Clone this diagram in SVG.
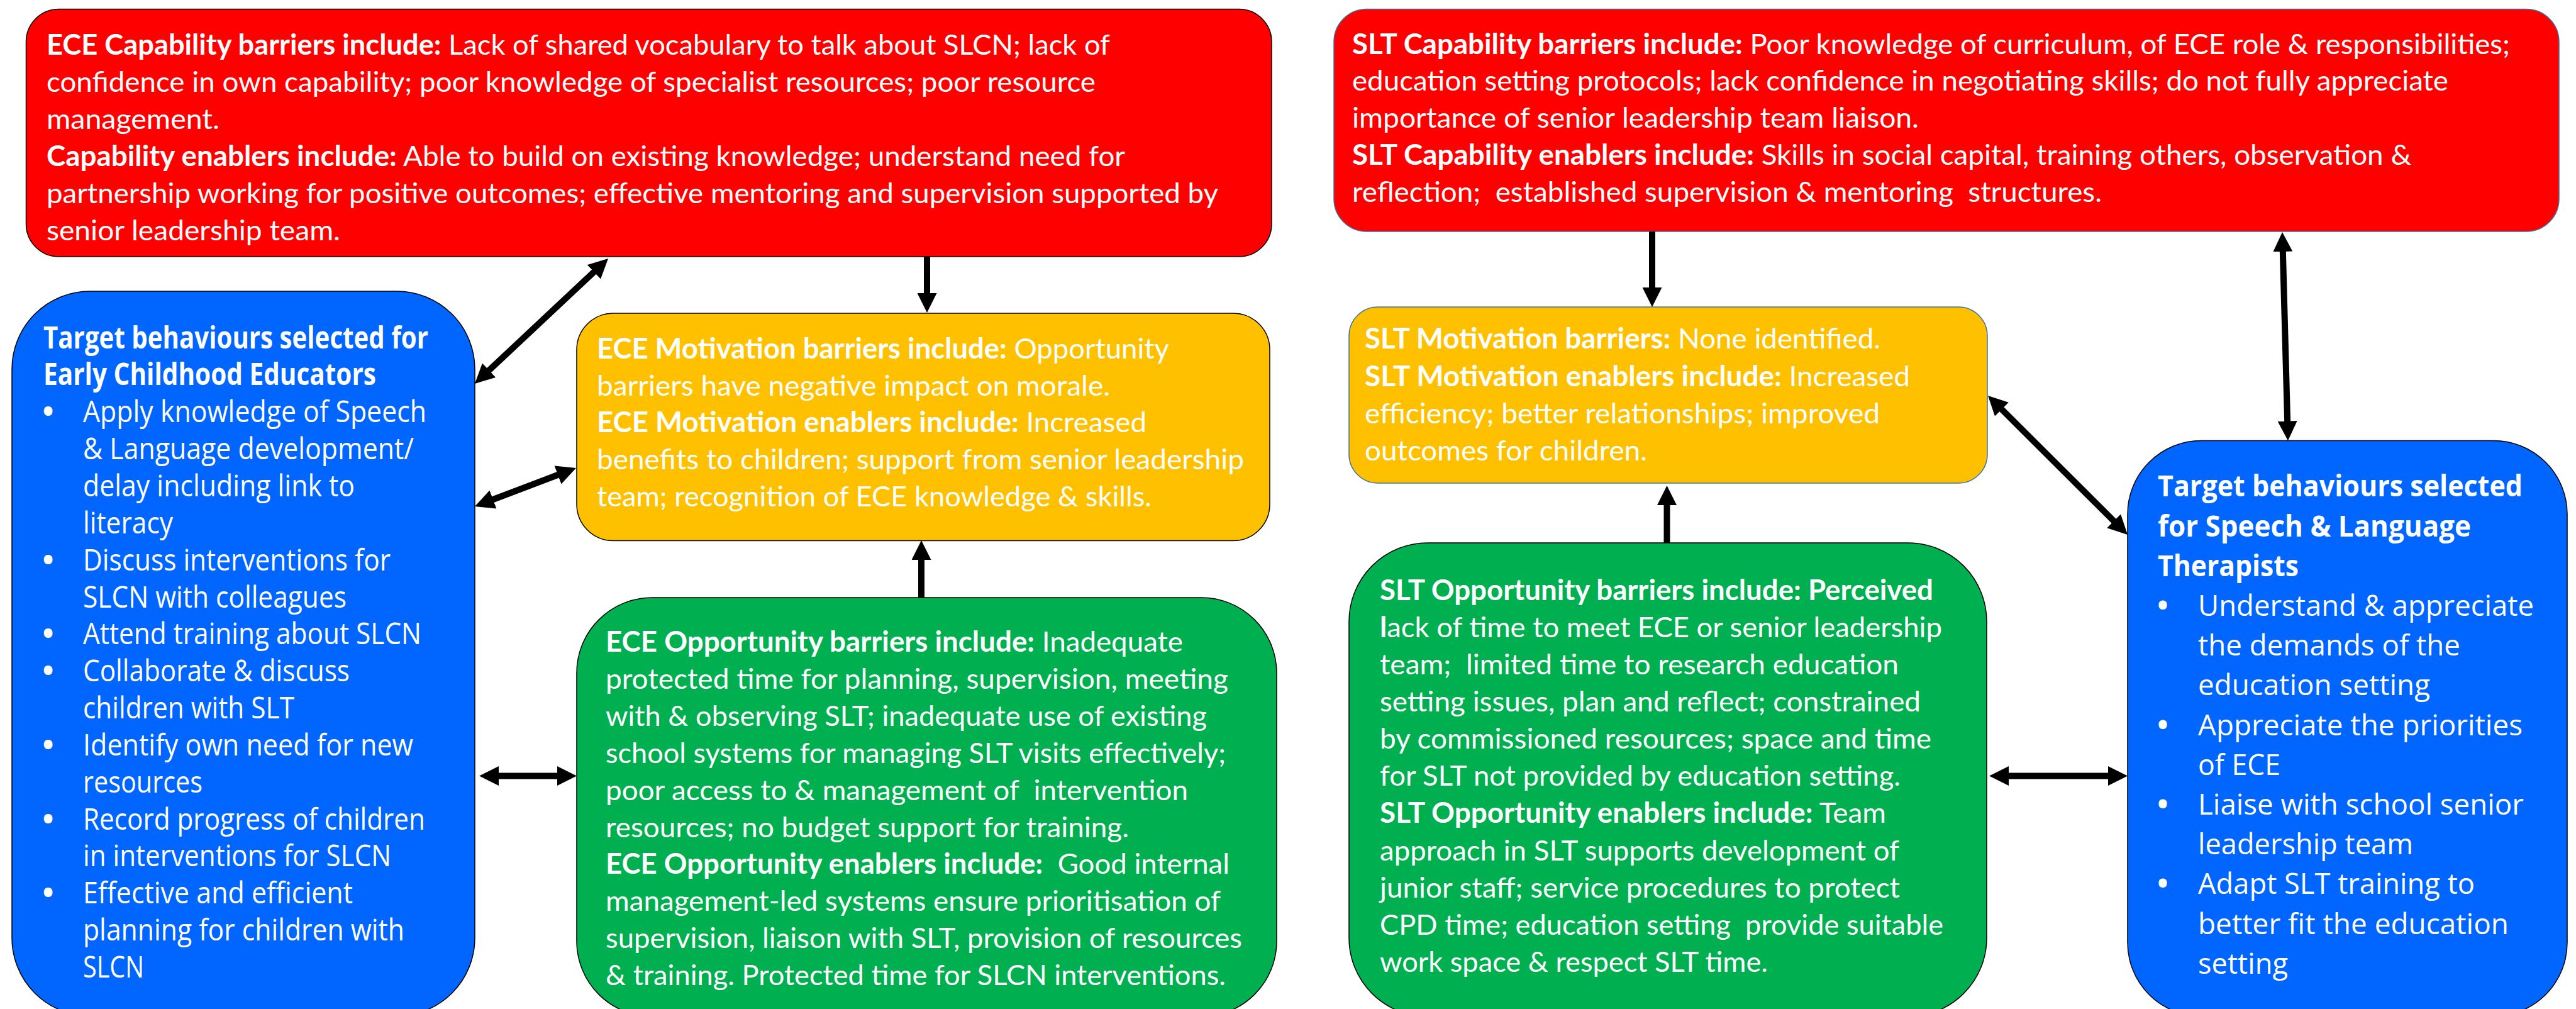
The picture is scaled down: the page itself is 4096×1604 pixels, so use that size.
<svg xmlns="http://www.w3.org/2000/svg" width="4096" height="1604" viewBox="0 0 4096 1604">
  <style>
    .box { stroke: #000; stroke-width: 1.5; }
    .edge { stroke: #41719C; }
    .red { fill: #FF0000; }
    .yel { fill: #FFC000; }
    .grn { fill: #00B050; }
    .blu { fill: #0066FF; }
    .t { font-family: Lato, "Open Sans", "Liberation Sans", sans-serif; font-size: 45px; fill: #FFFFFF; }
    .tb { font-family: "Open Sans", Lato, "Liberation Sans", sans-serif; font-size: 48px; fill: #FFFFFF; }
    .tb2 { font-family: "Open Sans", Lato, "Liberation Sans", sans-serif; font-size: 46px; fill: #FFFFFF; }
    .b { font-weight: 700; }
    .bul { text-anchor: middle; font-weight: 700; }
    .conn { fill: none; stroke: #000; stroke-width: 10; }
  </style>
  <defs>
    <marker id="ah" viewBox="0 0 31 31" refX="9" refY="15.5" markerWidth="31" markerHeight="31" markerUnits="userSpaceOnUse" orient="auto-start-reverse">
      <path d="M0,0 L31,15.5 L0,31 Z" fill="#000"/>
    </marker>
  </defs>
  <rect width="4096" height="1604" fill="#FFFFFF"/>

  <!-- ECE capability -->
  <g id="ece-capability">
    <rect class="box red" x="41.5" y="14.5" width="1980.5" height="393.5" rx="52"/>
    <text class="t" x="74" y="86.5" textLength="1691" lengthAdjust="spacingAndGlyphs"><tspan class="b">ECE Capability barriers include:</tspan> Lack of shared vocabulary to talk about SLCN; lack of</text>
    <text class="t" x="74" y="145.5" textLength="1668" lengthAdjust="spacingAndGlyphs">confidence in own capability; poor knowledge of specialist resources; poor resource</text>
    <text class="t" x="74" y="204.5" textLength="275" lengthAdjust="spacingAndGlyphs">management.</text>
    <text class="t" x="74" y="263.5" textLength="1715" lengthAdjust="spacingAndGlyphs"><tspan class="b">Capability enablers include:</tspan> Able to build on existing knowledge; understand need for</text>
    <text class="t" x="74" y="322.5" textLength="1863" lengthAdjust="spacingAndGlyphs">partnership working for positive outcomes; effective mentoring and supervision supported by</text>
    <text class="t" x="74" y="381.5" textLength="467" lengthAdjust="spacingAndGlyphs">senior leadership team.</text>
  </g>

  <!-- SLT capability -->
  <g id="slt-capability">
    <rect class="box edge red" x="2121" y="14.5" width="1948" height="353.5" rx="52"/>
    <text class="t" x="2150" y="85.5" textLength="1841" lengthAdjust="spacingAndGlyphs"><tspan class="b">SLT Capability barriers include:</tspan> Poor knowledge of curriculum, of ECE role &amp; responsibilities;</text>
    <text class="t" x="2150" y="144.3" textLength="1743" lengthAdjust="spacingAndGlyphs">education setting protocols; lack confidence in negotiating skills; do not fully appreciate</text>
    <text class="t" x="2150" y="203.1" textLength="901" lengthAdjust="spacingAndGlyphs">importance of senior leadership team liaison.</text>
    <text class="t" x="2150" y="261.9" textLength="1684" lengthAdjust="spacingAndGlyphs"><tspan class="b">SLT Capability enablers include:</tspan> Skills in social capital, training others, observation &amp;</text>
    <text class="t" x="2150" y="320.7" textLength="1192" lengthAdjust="spacingAndGlyphs" xml:space="preserve">reflection;  established supervision &amp; mentoring  structures.</text>
  </g>

  <!-- ECE motivation -->
  <g id="ece-motivation">
    <rect class="box yel" x="917" y="498" width="1102" height="361.5" rx="58"/>
    <text class="t" x="949" y="570" textLength="910" lengthAdjust="spacingAndGlyphs"><tspan class="b">ECE Motivation barriers include:</tspan> Opportunity</text>
    <text class="t" x="949" y="628.7" textLength="816" lengthAdjust="spacingAndGlyphs">barriers have negative impact on morale.</text>
    <text class="t" x="949" y="687.4" textLength="874" lengthAdjust="spacingAndGlyphs"><tspan class="b">ECE Motivation enablers include:</tspan> Increased</text>
    <text class="t" x="949" y="746.1" textLength="1029" lengthAdjust="spacingAndGlyphs">benefits to children; support from senior leadership</text>
    <text class="t" x="949" y="804.8" textLength="882" lengthAdjust="spacingAndGlyphs">team; recognition of ECE knowledge &amp; skills.</text>
  </g>

  <!-- SLT motivation -->
  <g id="slt-motivation">
    <rect class="box edge yel" x="2145" y="488" width="1015" height="280" rx="46"/>
    <text class="t" x="2170" y="554.4" textLength="820" lengthAdjust="spacingAndGlyphs"><tspan class="b">SLT Motivation barriers:</tspan> None identified.</text>
    <text class="t" x="2170" y="613.6" textLength="867" lengthAdjust="spacingAndGlyphs"><tspan class="b">SLT Motivation enablers include:</tspan> Increased</text>
    <text class="t" x="2170" y="672.8" textLength="819" lengthAdjust="spacingAndGlyphs">efficiency; better relationships; improved</text>
    <text class="t" x="2170" y="732" textLength="449" lengthAdjust="spacingAndGlyphs">outcomes for children.</text>
  </g>

  <!-- ECE opportunity -->
  <g id="ece-opportunity">
    <rect class="box grn" x="917" y="950" width="1113" height="666" rx="120"/>
    <text class="t" x="963" y="1036" textLength="918" lengthAdjust="spacingAndGlyphs"><tspan class="b">ECE Opportunity barriers include:</tspan> Inadequate</text>
    <text class="t" x="963" y="1094.9" textLength="990" lengthAdjust="spacingAndGlyphs">protected time for planning, supervision, meeting</text>
    <text class="t" x="963" y="1153.8" textLength="956" lengthAdjust="spacingAndGlyphs">with &amp; observing SLT; inadequate use of existing</text>
    <text class="t" x="963" y="1212.7" textLength="986" lengthAdjust="spacingAndGlyphs">school systems for managing SLT visits effectively;</text>
    <text class="t" x="963" y="1271.6" textLength="926" lengthAdjust="spacingAndGlyphs" xml:space="preserve">poor access to &amp; management of  intervention</text>
    <text class="t" x="963" y="1330.5" textLength="832" lengthAdjust="spacingAndGlyphs">resources; no budget support for training.</text>
    <text class="t" x="963" y="1389.4" textLength="992" lengthAdjust="spacingAndGlyphs" xml:space="preserve"><tspan class="b">ECE Opportunity enablers include:</tspan>  Good internal</text>
    <text class="t" x="963" y="1448.3" textLength="978" lengthAdjust="spacingAndGlyphs">management-led systems ensure prioritisation of</text>
    <text class="t" x="963" y="1507.2" textLength="1012" lengthAdjust="spacingAndGlyphs">supervision, liaison with SLT, provision of resources</text>
    <text class="t" x="963" y="1566.1" textLength="986" lengthAdjust="spacingAndGlyphs">&amp; training. Protected time for SLCN interventions.</text>
  </g>

  <!-- SLT opportunity -->
  <g id="slt-opportunity">
    <rect class="box grn" x="2145" y="863" width="1014" height="753" rx="125"/>
    <text class="t" x="2194" y="953.8" textLength="880" lengthAdjust="spacingAndGlyphs"><tspan class="b">SLT Opportunity barriers include: Perceived</tspan></text>
    <text class="t" x="2194" y="1012.9" textLength="894" lengthAdjust="spacingAndGlyphs"><tspan class="b">l</tspan>ack of time to meet ECE or senior leadership</text>
    <text class="t" x="2194" y="1072" textLength="825" lengthAdjust="spacingAndGlyphs" xml:space="preserve">team;  limited time to research education</text>
    <text class="t" x="2194" y="1131.1" textLength="860" lengthAdjust="spacingAndGlyphs">setting issues, plan and reflect; constrained</text>
    <text class="t" x="2194" y="1190.2" textLength="877" lengthAdjust="spacingAndGlyphs">by commissioned resources; space and time</text>
    <text class="t" x="2194" y="1249.3" textLength="828" lengthAdjust="spacingAndGlyphs">for SLT not provided by education setting.</text>
    <text class="t" x="2194" y="1308.4" textLength="805" lengthAdjust="spacingAndGlyphs"><tspan class="b">SLT Opportunity enablers include:</tspan> Team</text>
    <text class="t" x="2194" y="1367.5" textLength="826" lengthAdjust="spacingAndGlyphs">approach in SLT supports development of</text>
    <text class="t" x="2194" y="1426.6" textLength="827" lengthAdjust="spacingAndGlyphs">junior staff; service procedures to protect</text>
    <text class="t" x="2194" y="1485.7" textLength="896" lengthAdjust="spacingAndGlyphs" xml:space="preserve">CPD time; education setting  provide suitable</text>
    <text class="t" x="2194" y="1544.8" textLength="617" lengthAdjust="spacingAndGlyphs">work space &amp; respect SLT time.</text>
  </g>

  <!-- ECE target behaviours -->
  <g id="ece-targets">
    <rect class="box blu" x="19" y="463" width="736" height="1152" rx="124"/>
    <text class="tb b" x="69" y="553.5" textLength="612" lengthAdjust="spacingAndGlyphs">Target behaviours selected for</text>
    <text class="tb b" x="69" y="612.4" textLength="529" lengthAdjust="spacingAndGlyphs">Early Childhood Educators</text>
    <text class="tb bul" x="76.5" y="671.2">•</text>
    <text class="tb" x="132" y="671.2" textLength="546" lengthAdjust="spacingAndGlyphs">Apply knowledge of Speech</text>
    <text class="tb" x="132" y="730.1" textLength="526" lengthAdjust="spacingAndGlyphs">&amp; Language development/</text>
    <text class="tb" x="132" y="788.9" textLength="432" lengthAdjust="spacingAndGlyphs">delay including link to</text>
    <text class="tb" x="132" y="847.8" textLength="143" lengthAdjust="spacingAndGlyphs">literacy</text>
    <text class="tb bul" x="76.5" y="906.6">•</text>
    <text class="tb" x="132" y="906.6" textLength="489" lengthAdjust="spacingAndGlyphs">Discuss interventions for</text>
    <text class="tb" x="132" y="965.5" textLength="419" lengthAdjust="spacingAndGlyphs">SLCN with colleagues</text>
    <text class="tb bul" x="76.5" y="1024.3">•</text>
    <text class="tb" x="132" y="1024.3" textLength="538" lengthAdjust="spacingAndGlyphs">Attend training about SLCN</text>
    <text class="tb bul" x="76.5" y="1083.2">•</text>
    <text class="tb" x="132" y="1083.2" textLength="424" lengthAdjust="spacingAndGlyphs">Collaborate &amp; discuss</text>
    <text class="tb" x="132" y="1142" textLength="336" lengthAdjust="spacingAndGlyphs">children with SLT</text>
    <text class="tb bul" x="76.5" y="1200.9">•</text>
    <text class="tb" x="132" y="1200.9" textLength="525" lengthAdjust="spacingAndGlyphs">Identify own need for new</text>
    <text class="tb" x="132" y="1259.7" textLength="190" lengthAdjust="spacingAndGlyphs">resources</text>
    <text class="tb bul" x="76.5" y="1318.6">•</text>
    <text class="tb" x="132" y="1318.6" textLength="544" lengthAdjust="spacingAndGlyphs">Record progress of children</text>
    <text class="tb" x="132" y="1377.4" textLength="490" lengthAdjust="spacingAndGlyphs">in interventions for SLCN</text>
    <text class="tb bul" x="76.5" y="1436.3">•</text>
    <text class="tb" x="132" y="1436.3" textLength="429" lengthAdjust="spacingAndGlyphs">Effective and efficient</text>
    <text class="tb" x="132" y="1495.1" textLength="511" lengthAdjust="spacingAndGlyphs">planning for children with</text>
    <text class="tb" x="132" y="1554" textLength="97" lengthAdjust="spacingAndGlyphs">SLCN</text>
  </g>

  <!-- SLT target behaviours -->
  <g id="slt-targets">
    <rect class="box blu" x="3383" y="700.5" width="699" height="915" rx="117"/>
    <text class="tb2 b" x="3431" y="789.3" textLength="580" lengthAdjust="spacingAndGlyphs">Target behaviours selected</text>
    <text class="tb2 b" x="3431" y="852.5" textLength="498" lengthAdjust="spacingAndGlyphs">for Speech &amp; Language</text>
    <text class="tb2 b" x="3431" y="915.7" textLength="224" lengthAdjust="spacingAndGlyphs">Therapists</text>
    <text class="tb2 bul" x="3439" y="978.9">•</text>
    <text class="tb2" x="3495" y="978.9" textLength="534" lengthAdjust="spacingAndGlyphs">Understand &amp; appreciate</text>
    <text class="tb2" x="3495" y="1042.1" textLength="417" lengthAdjust="spacingAndGlyphs">the demands of the</text>
    <text class="tb2" x="3495" y="1105.3" textLength="369" lengthAdjust="spacingAndGlyphs">education setting</text>
    <text class="tb2 bul" x="3439" y="1168.5">•</text>
    <text class="tb2" x="3495" y="1168.5" textLength="516" lengthAdjust="spacingAndGlyphs">Appreciate the priorities</text>
    <text class="tb2" x="3495" y="1231.7" textLength="131" lengthAdjust="spacingAndGlyphs">of ECE</text>
    <text class="tb2 bul" x="3439" y="1294.9">•</text>
    <text class="tb2" x="3495" y="1294.9" textLength="518" lengthAdjust="spacingAndGlyphs">Liaise with school senior</text>
    <text class="tb2" x="3495" y="1358.1" textLength="342" lengthAdjust="spacingAndGlyphs">leadership team</text>
    <text class="tb2 bul" x="3439" y="1421.3">•</text>
    <text class="tb2" x="3495" y="1421.3" textLength="440" lengthAdjust="spacingAndGlyphs">Adapt SLT training to</text>
    <text class="tb2" x="3495" y="1484.5" textLength="494" lengthAdjust="spacingAndGlyphs">better fit the education</text>
    <text class="tb2" x="3495" y="1547.7" textLength="143" lengthAdjust="spacingAndGlyphs">setting</text>
  </g>

  <!-- connectors -->
  <g id="connectors" class="conn">
    <path d="M1474,407 V475" marker-end="url(#ah)"/>
    <path d="M951,426.1 L771,594.9" marker-start="url(#ah)" marker-end="url(#ah)"/>
    <path d="M775.6,797.2 L895.4,751.8" marker-start="url(#ah)" marker-end="url(#ah)"/>
    <path d="M784,1233.5 H895" marker-start="url(#ah)" marker-end="url(#ah)"/>
    <path d="M1465,950 V881" marker-end="url(#ah)"/>
    <path d="M2627,368 V466" marker-end="url(#ah)"/>
    <path d="M3629.6,391 L3637.4,678.5" marker-start="url(#ah)" marker-end="url(#ah)"/>
    <path d="M3176.6,644.5 L3367.4,834.5" marker-start="url(#ah)" marker-end="url(#ah)"/>
    <path d="M3185,1233.5 H3361" marker-start="url(#ah)" marker-end="url(#ah)"/>
    <path d="M2650.5,863 V794" marker-end="url(#ah)"/>
  </g>
</svg>
